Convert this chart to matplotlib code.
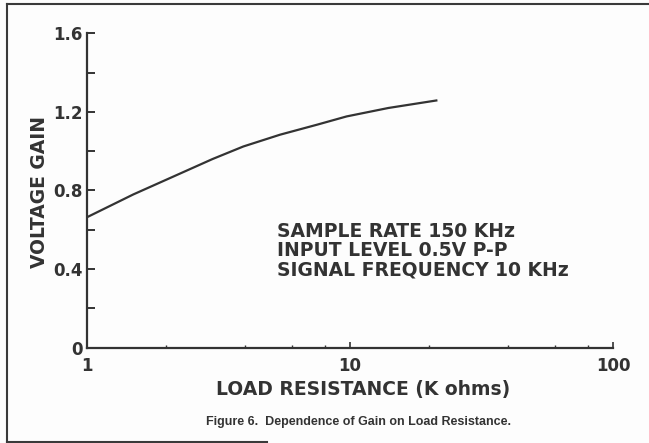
import matplotlib
matplotlib.use("Agg")
import matplotlib.pyplot as plt
from matplotlib.lines import Line2D
import numpy as np

# Data
load_k = [1.0, 1.5, 2.13, 3.0, 3.93, 5.42, 7.5, 9.71, 14.0, 21.5]
gain = [0.664, 0.78, 0.871, 0.96, 1.024, 1.084, 1.135, 1.177, 1.22, 1.259]

y_major = [0, 0.4, 0.8, 1.2, 1.6]
y_major_labels = ["0", "0.4", "0.8", "1.2", "1.6"]
y_minor = [0.2, 0.6, 1.0, 1.4]
x_major = [1, 10, 100]
x_major_labels = ["1", "10", "100"]
x_minor = [2, 4, 6, 8, 20, 40, 60, 80]

notes = ["SAMPLE RATE 150 KHz", "INPUT LEVEL 0.5V P-P", "SIGNAL FREQUENCY 10 KHz"]

ink = "#333333"
plt.rcParams["font.family"] = ["DejaVu Sans"]

fig = plt.figure(figsize=(6.49, 4.43), dpi=100)
fig.patch.set_facecolor("#fdfdfd")
W, H = 649, 443
ax = fig.add_axes([87 / W, 1 - 347.7 / H, (613 - 87) / W, (347.7 - 33.3) / H])
ax.set_facecolor("#fdfdfd")

ax.plot(load_k, gain, color=ink, lw=1.6, solid_capstyle="butt")

ax.set_xscale("log")
ax.set_xlim(1, 100)
ax.set_ylim(0, 1.6)
for s in ["top", "right"]:
    ax.spines[s].set_visible(False)
for s in ["left", "bottom"]:
    ax.spines[s].set_linewidth(1.6)
    ax.spines[s].set_color(ink)

ax.set_yticks(y_major)
ax.set_yticklabels(y_major_labels, fontweight="bold")
ax.set_yticks(y_minor, minor=True)
ax.set_xticks(x_major)
ax.set_xticklabels(x_major_labels, fontweight="bold")
ax.set_xticks(x_minor, minor=True)
ax.xaxis.set_minor_formatter(matplotlib.ticker.NullFormatter())

ax.tick_params(axis="y", which="both", direction="in", length=6, width=1.4,
               color=ink, labelsize=12, labelcolor=ink, pad=3)
ax.tick_params(axis="x", which="major", direction="in", length=4, width=1.2,
               color=ink, labelsize=12, labelcolor=ink, pad=7)
ax.tick_params(axis="x", which="minor", direction="in", length=2.5, width=1.0,
               color=ink)

fig.text(40 / W, 1 - 192.5 / H, "VOLTAGE GAIN", rotation=90, ha="center",
         va="center", fontsize=13.5, fontweight="bold", color=ink)
fig.text(363.5 / W, 1 - 390 / H, "LOAD RESISTANCE (K ohms)", ha="center",
         va="center", fontsize=13.5, fontweight="bold", color=ink)

for i, t in enumerate(notes):
    fig.text(277 / W, 1 - (231.5 + 19.2 * i) / H, t, ha="left", va="center",
             fontsize=13.5, fontweight="bold", color=ink)

fig.text(358 / W, 1 - 421.7 / H, "Figure 6.  Dependence of Gain on Load Resistance.",
         ha="center", va="center", fontsize=9,
         family=["Liberation Sans", "DejaVu Sans"], fontweight="bold",
         color=ink)

# frame around the figure (left, top, partial bottom)
fr = dict(color="#3a3a3a", lw=1.5, transform=fig.transFigure)
fig.add_artist(Line2D([6.5 / W, 6.5 / W], [1 - 441.5 / H, 1 - 4 / H], **fr))
fig.add_artist(Line2D([6.5 / W, 1.0], [1 - 4 / H, 1 - 4 / H], **fr))
fig.add_artist(Line2D([6.5 / W, 267 / W], [1 - 441.5 / H, 1 - 441.5 / H], **fr))

fig.savefig("out.png", dpi=100, facecolor=fig.get_facecolor())
